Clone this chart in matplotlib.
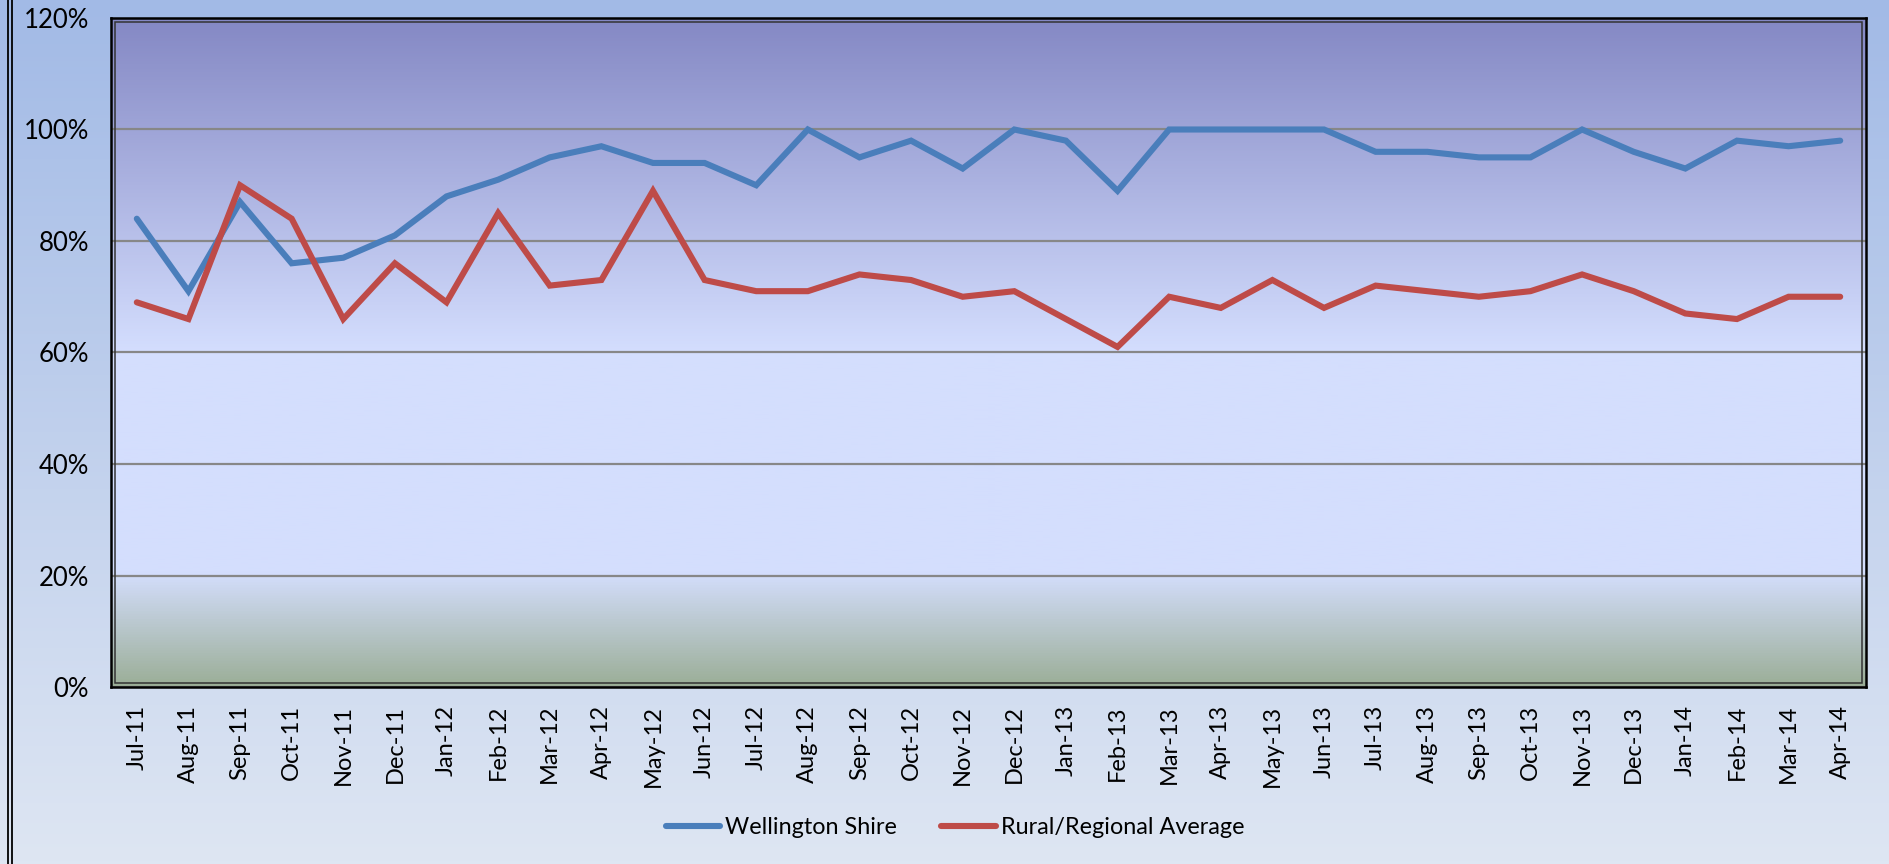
import numpy as np
import matplotlib
matplotlib.use("Agg")
import matplotlib.pyplot as plt
from matplotlib.colors import LinearSegmentedColormap
from matplotlib.patches import Rectangle
from matplotlib.lines import Line2D
from matplotlib.ticker import FuncFormatter, MultipleLocator

months = ["Jul-11", "Aug-11", "Sep-11", "Oct-11", "Nov-11", "Dec-11",
          "Jan-12", "Feb-12", "Mar-12", "Apr-12", "May-12", "Jun-12",
          "Jul-12", "Aug-12", "Sep-12", "Oct-12", "Nov-12", "Dec-12",
          "Jan-13", "Feb-13", "Mar-13", "Apr-13", "May-13", "Jun-13",
          "Jul-13", "Aug-13", "Sep-13", "Oct-13", "Nov-13", "Dec-13",
          "Jan-14", "Feb-14", "Mar-14", "Apr-14"]

wellington = [84, 71, 87, 76, 77, 81, 88, 91, 95, 97, 94, 94,
              90, 100, 95, 98, 93, 100, 98, 89, 100, 100, 100, 100,
              96, 96, 95, 95, 100, 96, 93, 98, 97, 98]

rural = [69, 66, 90, 84, 66, 76, 69, 85, 72, 73, 89, 73,
         71, 71, 74, 73, 70, 71, 66, 61, 70, 68, 73, 68,
         72, 71, 70, 71, 74, 71, 67, 66, 70, 70]

series_names = ["Wellington Shire", "Rural/Regional Average"]
series_colors = ["#4A7EBB", "#BE4B48"]

plt.rcParams['font.family'] = ['Lato', 'DejaVu Sans']

W, H = 1890, 864
fig = plt.figure(figsize=(W / 100, H / 100), dpi=100)

# figure background gradient
bg = fig.add_axes([0, 0, 1, 1], zorder=-10)
bg_cmap = LinearSegmentedColormap.from_list("bg", ["#A2BAE6", "#DEE6F3"])
bg.imshow(np.linspace(0, 1, 256).reshape(-1, 1), aspect="auto", cmap=bg_cmap,
          extent=[0, 1, 0, 1])
bg.set_axis_off()
# double border on the left edge
for xp in (8.5, 12.0):
    fig.add_artist(Line2D([xp / W, xp / W], [0, 1], color="black", lw=1.3,
                          transform=fig.transFigure))

left, right = 111 / W, 1866 / W
bottom, top = (H - 687) / H, (H - 18) / H
ax = fig.add_axes([left, bottom, right - left, top - bottom])

x = np.arange(len(months))
ax.set_xlim(-0.5, len(months) - 0.5)
ax.set_ylim(0, 120)

# plot area gradient
plot_cmap = LinearSegmentedColormap.from_list(
    "plot", [(0.0, "#8488C4"), (0.5, "#D4DEFE"), (0.83, "#D4DEFD"), (1.0, "#9BAE97")])
ax.imshow(np.linspace(0, 1, 512).reshape(-1, 1), aspect="auto", cmap=plot_cmap,
          extent=[-0.5, len(months) - 0.5, 0, 120], zorder=0)

ax.yaxis.set_major_locator(MultipleLocator(20))
ax.yaxis.set_major_formatter(FuncFormatter(lambda v, p: f"{v:.0f}%"))
ax.grid(axis="y", color="#878787", lw=1.6, zorder=1)
ax.set_axisbelow(False)

ax.plot(x, wellington, color=series_colors[0], lw=4.4, label=series_names[0],
        solid_capstyle="round", solid_joinstyle="miter", zorder=3)
ax.plot(x, rural, color=series_colors[1], lw=4.4, label=series_names[1],
        solid_capstyle="round", solid_joinstyle="miter", zorder=3)

ax.set_xticks(x)
ax.set_xticklabels(months, rotation=90, fontsize=17)
ax.tick_params(axis="both", length=0)
ax.tick_params(axis="x", pad=13)
ax.tick_params(axis="y", labelsize=18.5, pad=16)

for s in ax.spines.values():
    s.set_color("black")
    s.set_linewidth(1.8)
    s.set_zorder(5)
# inner line of the double frame
ax.add_patch(Rectangle((4 / (1866 - 111), 4 / (687 - 18)),
                       1 - 8 / (1866 - 111), 1 - 8 / (687 - 18),
                       transform=ax.transAxes, fill=False, ec="#333333",
                       lw=1.1, zorder=4))

fig.legend(loc="center", bbox_to_anchor=(955 / W, 1 - 828 / H), ncol=2,
           frameon=False, fontsize=16.8, handlelength=2.35, handletextpad=0.2,
           columnspacing=1.9)

fig.savefig("out.png", dpi=100)
